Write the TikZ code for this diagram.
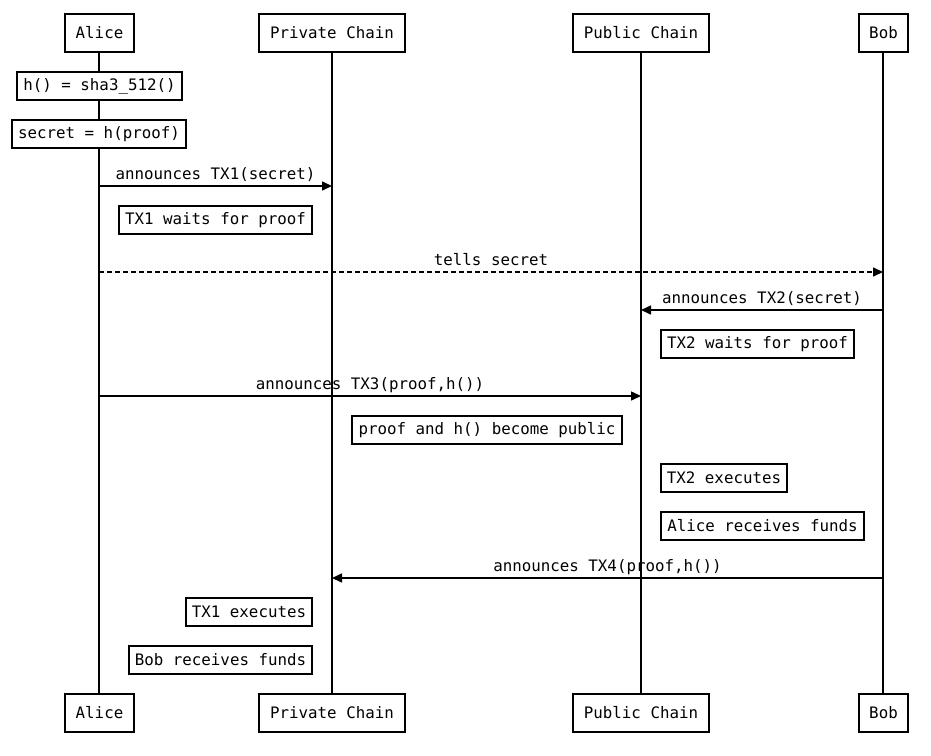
\documentclass[tikz,border=0pt]{standalone}
\usepackage{fontspec}
\setmonofont{DejaVu Sans Mono}
\usetikzlibrary{arrows.meta}
\begin{document}
\begin{tikzpicture}[x=1pt,y=-1pt,
  font=\ttfamily\fontsize{15.8}{18}\selectfont,
  actor/.style={draw,line width=1.5pt,fill=white,minimum height=38pt,inner sep=0pt,minimum width=#1},
  note/.style={draw,line width=1.5pt,fill=white,minimum height=28pt,inner sep=0pt,minimum width=#1},
  life/.style={line width=1.5pt},
  msg/.style={line width=1.5pt,-{Triangle[length=10pt,width=9pt]}},
  dmsg/.style={msg,dash pattern=on 5pt off 3pt},
  lbl/.style={anchor=base,inner sep=0pt}]
\useasboundingbox[fill=white] (0,0) rectangle (931,755);

% participants, top and bottom
\node[actor=69]  (aliceT) at (99.5,33)  {Alice};
\node[actor=146] (privT)  at (332,33)   {Private Chain};
\node[actor=136] (pubT)   at (641,33)   {Public Chain};
\node[actor=49]  (bobT)   at (883.5,33) {Bob};
\node[actor=69]  (aliceB) at (99.5,713)  {Alice};
\node[actor=146] (privB)  at (332,713)   {Private Chain};
\node[actor=136] (pubB)   at (641,713)   {Public Chain};
\node[actor=49]  (bobB)   at (883.5,713) {Bob};

% lifelines
\draw[life] (99,52) coordinate (aL0) -- (99,694) coordinate (aL1);
\draw[life] (privT.south) -- (privB.north);
\draw[life] (pubT.south) -- (pubB.north);
\draw[life] (883,52) coordinate (bL0) -- (883,694) coordinate (bL1);

% message end points on the lifelines
\coordinate (m1a) at (99,186);  \coordinate (m1b) at (332,186);
\coordinate (m2a) at (99,272);  \coordinate (m2b) at (883,272);
\coordinate (m3a) at (883,310); \coordinate (m3b) at (641,310);
\coordinate (m4a) at (99,396);  \coordinate (m4b) at (641,396);
\coordinate (m5a) at (883,578); \coordinate (m5b) at (332,578);

% notes
\node[note=165] (n1) at (99.5,86)  {h() = sha3\_512()};
\node[note=174] (n2) at (99,134)   {secret = h(proof)};
\node[note=193] (n3) at (215.5,220) {TX1 waits for proof};
\node[note=193] (n4) at (757.5,344) {TX2 waits for proof};
\node[note=270] (n5) at (487,430)   {proof and h() become public};
\node[note=126] (n6) at (724,478)   {TX2 executes};
\node[note=203] (n7) at (762.5,526) {Alice receives funds};
\node[note=126] (n8) at (249,612)   {TX1 executes};
\node[note=183] (n9) at (220.5,660) {Bob receives funds};

% messages
\draw[msg]  (m1a) -- (m1b);
\node[lbl] (l1) at (215.5,179) {announces TX1(secret)};
\draw[dmsg] (m2a) -- (m2b);
\node[lbl] (l2) at (491,265) {tells secret};
\draw[msg]  (m3a) -- (m3b);
\node[lbl] (l3) at (762,303) {announces TX2(secret)};
\draw[msg]  (m4a) -- (m4b);
\node[lbl] (l4) at (370,389) {announces TX3(proof,h())};
\draw[msg]  (m5a) -- (m5b);
\node[lbl] (l5) at (607.5,571) {announces TX4(proof,h())};
\end{tikzpicture}
\end{document}
